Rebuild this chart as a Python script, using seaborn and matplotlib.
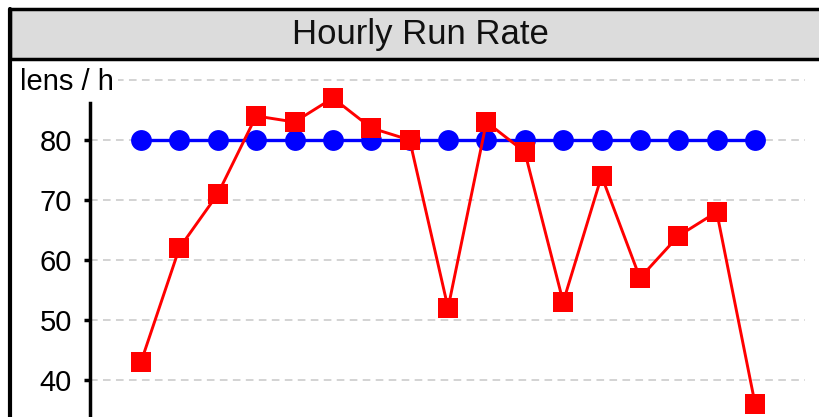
import matplotlib
matplotlib.use("Agg")
import matplotlib.pyplot as plt
import seaborn as sns
import pandas as pd
from matplotlib.patches import Rectangle
from matplotlib.lines import Line2D

hours = list(range(17))
actual = [43, 62, 71, 84, 83, 87, 82, 80, 52, 83, 78, 53, 74, 57, 64, 68, 36]
target = [80] * 17
yticks = [40, 50, 60, 70, 80, 90]
ytick_labels = ["40", "50", "60", "70", "80", ""]
title = "Hourly Run Rate"
ylabel = "lens / h"

sns.set_theme(style="white")
plt.rcParams['font.family'] = ['Liberation Sans', 'DejaVu Sans']

W, H = 819, 417
fig = plt.figure(figsize=(W / 100, H / 100), dpi=100)

# overlay for frame and title bar (pixel coords)
ov = fig.add_axes([0, 0, 1, 1], zorder=0)
ov.set_xlim(0, W)
ov.set_ylim(H, 0)
ov.axis("off")
ov.add_patch(Rectangle((10, 9), 830, 50, facecolor="#DCDCDC", edgecolor="black", linewidth=2.5))
ov.add_line(Line2D([10, 10], [9, H + 5], color="black", linewidth=3))
ov.text(420, 34, title, ha="center", va="center", fontsize=25, color="#111111")

df = pd.DataFrame({"hour": hours, "actual": actual, "target": target})

ymin = 80 - (H - 140) / 6
ymax = 80 + (140 - 70) / 6
left = 90 / W
right = 805 / W
top = (H - 70) / H
ax = fig.add_axes([left, 0, right - left, top], zorder=1)
ax.patch.set_alpha(0)

sns.lineplot(data=df, x="hour", y="target", ax=ax, color="#0000FF", linewidth=2.4,
             marker="o", markersize=15, markeredgewidth=0, zorder=3)
sns.lineplot(data=df, x="hour", y="actual", ax=ax, color="#FF0000", linewidth=2.1,
             marker="s", markersize=15, markeredgewidth=0, zorder=4)

ax.set_xlim(-1.329, 17.30)
ax.set_ylim(ymin, ymax)
ax.set_yticks(yticks)
ax.set_yticklabels(ytick_labels)
ax.set_xticks([])
ax.set_xlabel("")
ax.set_ylabel("")
ax.yaxis.grid(True, color="#C8C8C8", linestyle=(0, (5, 3.5)), linewidth=1.1)
ax.set_axisbelow(True)
for s in ["top", "right", "bottom"]:
    ax.spines[s].set_visible(False)
ax.spines["left"].set_color("black")
ax.spines["left"].set_linewidth(2.5)
ax.spines["left"].set_bounds(ymin, 86.2)
ax.tick_params(axis="y", left=True, length=4, width=2.5, color="black", pad=9,
               labelsize=21, labelcolor="black")

fig.text(20 / W, (H - 82) / H, ylabel, fontsize=21, ha="left", va="center", color="black",
         zorder=5, bbox=dict(facecolor="white", edgecolor="none", pad=3))

fig.savefig("out.png", dpi=100)
